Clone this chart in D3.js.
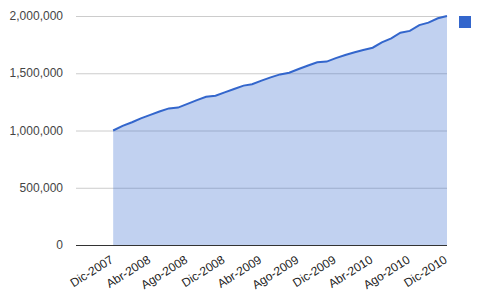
<!DOCTYPE html>
<html>
<head>
<meta charset="utf-8">
<script src="https://cdn.jsdelivr.net/npm/d3@7"></script>
<style>
  body { margin: 0; background: #fff; }
  svg text { font-family: Arial, "Liberation Sans", sans-serif; }
</style>
</head>
<body>
<svg id="chart" width="481" height="295"></svg>
<script>
// one value per month, Dic-2007 .. Dic-2010
const values = [
  1000000, 1040000, 1072000, 1106000, 1136000, 1166000, 1193000, 1200000,
  1232000, 1265000, 1294000, 1304000, 1333000, 1363000, 1392000, 1404000,
  1436000, 1464000, 1490000, 1505000, 1537000, 1568000, 1596000, 1602000,
  1632000, 1660000, 1683000, 1703000, 1723000, 1770000, 1805000, 1854000,
  1870000, 1920000, 1942000, 1980000, 2000000
];

const yTicks = [0, 500000, 1000000, 1500000, 2000000];
const xTickLabels = ["Dic-2007", "Abr-2008", "Ago-2008", "Dic-2008", "Abr-2009",
  "Ago-2009", "Dic-2009", "Abr-2010", "Ago-2010", "Dic-2010"];

const startDate = new Date(2007, 11, 1);
const data = values.map((v, i) => ({ date: d3.timeMonth.offset(startDate, i), value: v }));

const color = "#3366cc";
// plot box edges (named so they don't clash with window.top)
const plotLeft = 76, plotRight = 447, plotTop = 16, plotBottom = 245;

const svg = d3.select("#chart");

// axis starts 4 months before the first point
const x = d3.scaleTime()
  .domain([new Date(2007, 7, 1), new Date(2010, 11, 1)])
  .range([plotLeft, plotRight]);

const y = d3.scaleLinear()
  .domain([0, 2000000])
  .range([plotBottom, plotTop]);

// gridlines
svg.append("g")
  .selectAll("line")
  .data(yTicks.slice(1))
  .enter().append("line")
  .attr("x1", plotLeft).attr("x2", plotRight)
  .attr("y1", d => y(d) + 0.5).attr("y2", d => y(d) + 0.5)
  .attr("stroke", "#cccccc");

// area + line
const area = d3.area().x(d => x(d.date)).y0(y(0)).y1(d => y(d.value));
const line = d3.line().x(d => x(d.date)).y(d => y(d.value));

svg.append("path")
  .datum(data)
  .attr("d", area)
  .attr("fill", color)
  .attr("fill-opacity", 0.3);

svg.append("path")
  .datum(data)
  .attr("d", line)
  .attr("fill", "none")
  .attr("stroke", color)
  .attr("stroke-width", 2);

// baseline
svg.append("line")
  .attr("x1", plotLeft).attr("x2", plotRight)
  .attr("y1", y(0) + 0.5).attr("y2", y(0) + 0.5)
  .attr("stroke", "#333333");

// y labels
svg.append("g")
  .selectAll("text")
  .data(yTicks)
  .enter().append("text")
  .attr("x", 63)
  .attr("y", d => y(d))
  .attr("dy", "0.35em")
  .attr("text-anchor", "end")
  .attr("font-size", 12)
  .attr("fill", "#444444")
  .text(d3.format(",d"));

// x labels, every 4 months, slanted
const xTicks = xTickLabels.map((t, i) => ({ label: t, date: d3.timeMonth.offset(startDate, i * 4) }));
svg.append("g")
  .selectAll("text")
  .data(xTicks)
  .enter().append("text")
  .attr("transform", d => `translate(${x(d.date) + 1},262) rotate(-32)`)
  .attr("text-anchor", "end")
  .attr("font-size", 12)
  .attr("fill", "#222222")
  .text(d => d.label);

// legend swatch
svg.append("rect")
  .attr("x", 459).attr("y", 16)
  .attr("width", 12).attr("height", 12)
  .attr("fill", color);
</script>
</body>
</html>
